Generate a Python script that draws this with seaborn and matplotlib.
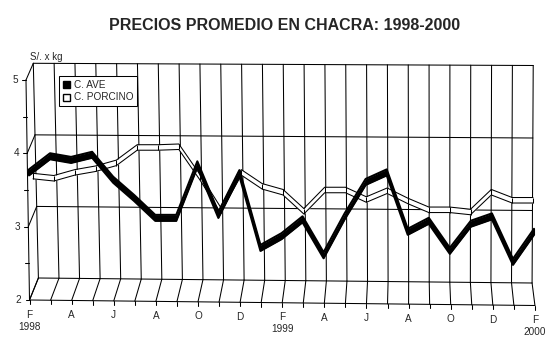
import numpy as np
import matplotlib
matplotlib.use('Agg')
import matplotlib.pyplot as plt
import seaborn as sns
from matplotlib.patches import Patch

# datos (S/. x kg), feb 1998 - feb 2000
meses = ['F', 'A', 'J', 'A', 'O', 'D', 'F', 'A', 'J', 'A', 'O', 'D', 'F']
anios = {0: '1998', 12: '1999', 24: '2000'}
c_ave = [3.74, 3.96, 3.91, 3.98, 3.64, 3.39, 3.12, 3.12, 3.85, 3.16, 3.73, 2.71, 2.87,
         3.10, 2.61, 3.14, 3.61, 3.74, 2.93, 3.08, 2.67, 3.04, 3.14, 2.52, 2.93]
c_porcino = [3.69, 3.66, 3.74, 3.79, 3.87, 4.08, 4.08, 4.09, 3.68, 3.23, 3.74, 3.55, 3.47,
             3.21, 3.50, 3.50, 3.37, 3.49, 3.35, 3.23, 3.23, 3.20, 3.47, 3.36, 3.36]
y_ticks = [2, 3, 4, 5]

sns.set_style('white')
plt.rcParams['font.family'] = ['Liberation Sans', 'DejaVu Sans']

W, H = 556, 364
fig = plt.figure(figsize=(W / 100, H / 100), dpi=100)

# fondo en pixeles para el marco 3D
bg = fig.add_axes([0, 0, 1, 1])
bg.set_xlim(0, W)
bg.set_ylim(H, 0)
bg.set_axis_off()
lw = 0.75
n = len(c_ave)


def fy(v):
    return 300 - (v - 2) * 73.33


def fx(v):
    return 29.5 - (v - 2) * 1.17


def bl(v):
    return 38.4 - (v - 2) * 1.7, 278 - (v - 2) * 71.57


def br(v):
    return 532 + (v - 2) * 0.43, 283 - (v - 2) * 72.5


def tx(k):
    return 29.5 + 21.06 * k


def ty(k):
    return 300 + 5.5 * k / 24


# pared del fondo: horizontales y verticales
for v in y_ticks:
    (x0, y0), (x1, y1) = bl(v), br(v)
    bg.plot([x0, x1], [y0, y1], color='black', lw=lw)
    # pared izquierda
    bg.plot([fx(v), x0], [fy(v), y0], color='black', lw=lw)
for k in range(n):
    bg.plot([38.4 + 20.57 * k, 33.3 + 20.83 * k], [278 + 5 * k / 24, 63.3 + 2.2 * k / 24],
            color='black', lw=lw)
    # piso
    bg.plot([tx(k), 38.4 + 20.57 * k], [ty(k), 278 + 5 * k / 24], color='black', lw=lw)
    bg.plot([tx(k), tx(k)], [ty(k), ty(k) + 4], color='black', lw=lw)

# ejes frontales
bg.plot([fx(2), fx(5)], [fy(2), fy(5)], color='black', lw=lw)
bg.plot([tx(0), tx(n - 1)], [ty(0), ty(n - 1)], color='black', lw=lw)
for v in np.arange(2, 5.01, 0.5):
    bg.plot([fx(v) - 4, fx(v)], [fy(v), fy(v)], color='black', lw=lw)
for v in y_ticks:
    bg.text(fx(v) - 11, fy(v), str(v), ha='center', va='center', fontsize=7.2)
for i, m in enumerate(meses):
    k = 2 * i
    bg.text(tx(k), ty(k) + 14.5, m, ha='center', va='center', fontsize=7.2)
for k, a in anios.items():
    bg.text(tx(k), ty(k) + 26.5, a, ha='center', va='center', fontsize=7.2)

bg.text(46, 57, 'S/. x kg', ha='center', va='center', fontsize=7)
bg.text(285, 25.5, 'PRECIOS PROMEDIO EN CHACRA: 1998-2000', ha='center', va='center',
        fontsize=11.5, fontweight='bold')

leg = bg.legend(handles=[Patch(facecolor='black', edgecolor='black', label='C. AVE'),
                         Patch(facecolor='white', edgecolor='black', label='C. PORCINO')],
                loc='upper left', bbox_to_anchor=(59 / W, 1 - 76 / H), bbox_transform=fig.transFigure,
                frameon=True, fancybox=False, edgecolor='black', framealpha=1, fontsize=7.2,
                handlelength=0.7, handleheight=0.7, handletextpad=0.4, borderpad=0.35,
                labelspacing=0.3, borderaxespad=0)
leg.get_frame().set_linewidth(lw)


def serie_ax(x0, x1):
    ax = fig.add_axes([x0 / W, (H - 300) / H, (x1 - x0) / W, 220 / H])
    ax.set_xlim(0, n - 1)
    ax.set_ylim(2, 5)
    ax.set_axis_off()
    ax.patch.set_visible(False)
    return ax


def cinta(ax, y, h, cara, ancho, divisiones):
    x = np.arange(len(y))
    y = np.asarray(y)
    ax.fill_between(x, y - h, y + h, color=cara, lw=0)
    sns.lineplot(x=x, y=y - h, ax=ax, color='black', lw=ancho)
    sns.lineplot(x=x, y=y + h, ax=ax, color='black', lw=ancho)
    if divisiones:
        ax.vlines(x, y - h, y + h, color='black', lw=ancho)
    else:
        ax.vlines([x[0], x[-1]], [y[0] - h, y[-1] - h], [y[0] + h, y[-1] + h], color='black', lw=ancho)
    for art in ax.get_children():
        art.set_clip_on(False)


ax_p = serie_ax(33, 533)
cinta(ax_p, c_porcino, 2.75 / 73.33, 'white', lw, True)
ax_a = serie_ax(29, 534)
cinta(ax_a, c_ave, 3 / 73.33, 'black', 1.5, False)

fig.savefig('out.png', dpi=100)
